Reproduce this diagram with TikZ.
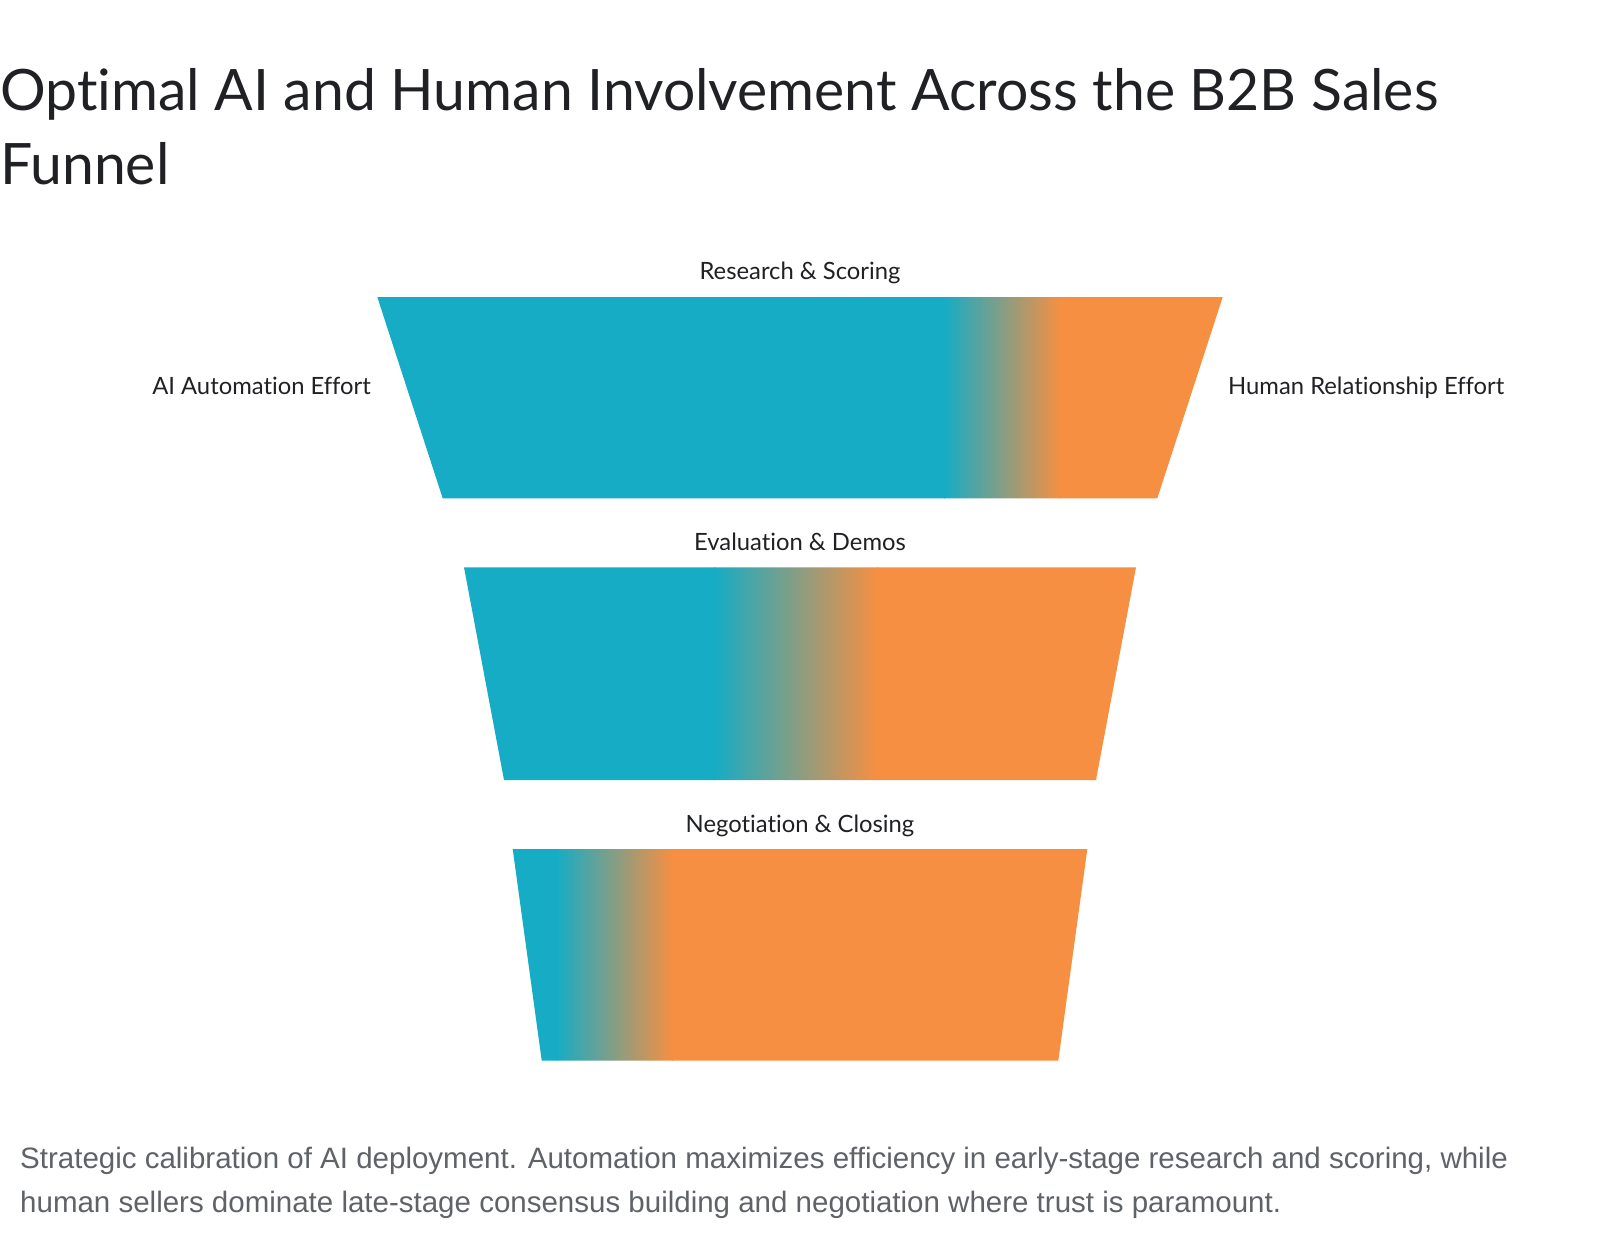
\documentclass[tikz,border=0pt]{standalone}
\usepackage{fontspec}
\setmainfont{Lato}[Ligatures=NoCommon]
\newfontfamily\capfont{Liberation Sans}
\definecolor{aiteal}{HTML}{16ACC5}
\definecolor{huorange}{HTML}{F78F42}
\definecolor{inkgray}{HTML}{202124}
\definecolor{capgray}{HTML}{5F6368}
\tikzset{
  lbl/.style={anchor=base, inner sep=0pt, text=inkgray, font=\fontsize{23.8}{28}\selectfont},
  titletext/.style={anchor=base west, inner sep=0pt, text=inkgray, font=\fontsize{57.1}{68}\selectfont},
  captext/.style={anchor=base west, inner sep=0pt, text=capgray, font=\capfont\fontsize{29.5}{35}\selectfont},
  blend/.style={left color=aiteal, right color=huorange}
}
\begin{document}
\begin{tikzpicture}[x=1pt,y=-1pt]
\useasboundingbox (0,0) rectangle (1600,1234);
\fill[white] (0,0) rectangle (1600,1234);

% Title
\node[titletext] (title1) at (0,110) {Optimal AI and Human Involvement Across the B2B Sales};
\node[titletext] (title2) at (0,184) {Funnel};

% Stage 1
\begin{scope}
  \clip (377.3,297) -- (1222.7,297) -- (1157.3,498.3) -- (442.7,498.3) -- cycle;
  \fill[aiteal] (370,290) rectangle (945,505);
  \shade[blend] (944,290) rectangle (1061,505);
  \fill[huorange] (1060,290) rectangle (1230,505);
\end{scope}
% Stage 2
\begin{scope}
  \clip (464,567.3) -- (1136,567.3) -- (1096,780) -- (504,780) -- cycle;
  \fill[aiteal] (460,560) rectangle (715,785);
  \shade[blend] (714,560) rectangle (878,785);
  \fill[huorange] (877,560) rectangle (1140,785);
\end{scope}
% Stage 3
\begin{scope}
  \clip (512.7,849) -- (1087.3,849) -- (1058.3,1060.5) -- (541.7,1060.5) -- cycle;
  \fill[aiteal] (505,845) rectangle (557,1065);
  \shade[blend] (556,845) rectangle (673,1065);
  \fill[huorange] (672,845) rectangle (1095,1065);
\end{scope}

% Labels
\node[lbl] (s1) at (800,279) {Research \& Scoring};
\node[lbl] (s2) at (800,550) {Evaluation \& Demos};
\node[lbl] (s3) at (800,832) {Negotiation \& Closing};
\node[lbl, anchor=base east] (ai) at (371,394) {AI Automation Effort};
\node[lbl, anchor=base west] (hu) at (1228,394) {Human Relationship Effort};

% Caption
\node[captext] (cap1) at (20,1168) {Strategic calibration of AI deployment. Automation maximizes efficiency in early-stage research and scoring, while};
\node[captext] (cap2) at (20,1212) {human sellers dominate late-stage consensus building and negotiation where trust is paramount.};
\end{tikzpicture}
\end{document}
